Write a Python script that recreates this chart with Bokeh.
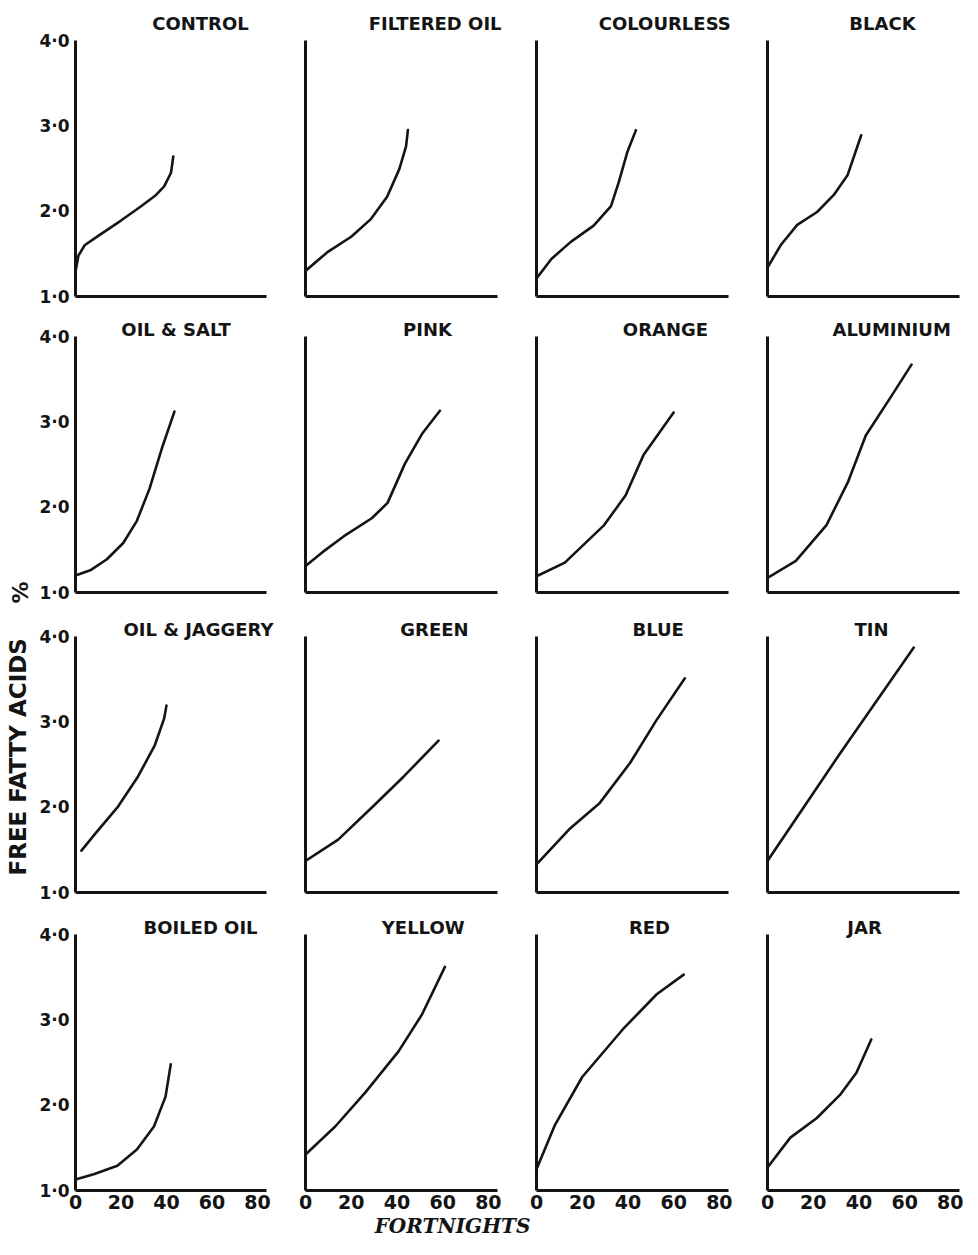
import math
from bokeh.plotting import figure
from bokeh.layouts import gridplot, row, column
from bokeh.models import Range1d, Label, FixedTicker
from bokeh.embed import file_html
from bokeh.resources import INLINE

# ---------------- data ----------------
titles = ["CONTROL", "FILTERED OIL", "COLOURLESS", "BLACK",
          "OIL & SALT", "PINK", "ORANGE", "ALUMINIUM",
          "OIL & JAGGERY", "GREEN", "BLUE", "TIN",
          "BOILED OIL", "YELLOW", "RED", "JAR"]

y_ticks = [1, 2, 3, 4]
y_tick_labels = ["1·0", "2·0", "3·0", "4·0"]
x_ticks = [0, 20, 40, 60, 80]
x_tick_labels = ["0", "20", "40", "60", "80"]

control_x = [0, 1.3, 4, 10, 20, 29, 35, 39, 42, 43]
control_y = [1.29, 1.48, 1.60, 1.71, 1.89, 2.06, 2.18, 2.29, 2.45, 2.64]

filtered_x = [0, 9.6, 20, 28.7, 35.7, 41, 44, 44.8]
filtered_y = [1.30, 1.52, 1.70, 1.91, 2.17, 2.49, 2.76, 2.95]

colourless_x = [0, 6.5, 15, 25, 32.6, 36, 39.7, 43.5]
colourless_y = [1.21, 1.44, 1.64, 1.83, 2.06, 2.34, 2.69, 2.95]

black_x = [0, 6, 13, 21.7, 29, 35, 41]
black_y = [1.34, 1.61, 1.84, 1.99, 2.19, 2.42, 2.89]

oil_salt_x = [0, 6.5, 13.8, 21, 27, 32.6, 38, 43.5]
oil_salt_y = [1.20, 1.26, 1.39, 1.58, 1.84, 2.22, 2.69, 3.12]

pink_x = [0, 7.3, 16.8, 29, 35.9, 43.5, 51, 58.8]
pink_y = [1.31, 1.47, 1.66, 1.87, 2.05, 2.51, 2.86, 3.13]

orange_x = [0, 12.4, 29.6, 39, 46.8, 60]
orange_y = [1.19, 1.35, 1.79, 2.14, 2.61, 3.11]

aluminium_x = [0, 12.4, 25.8, 35.3, 43, 54.4, 63]
aluminium_y = [1.17, 1.37, 1.79, 2.30, 2.84, 3.31, 3.67]

oil_jaggery_x = [2.6, 8.7, 18.8, 27.5, 34.8, 39, 40]
oil_jaggery_y = [1.49, 1.69, 2.01, 2.36, 2.72, 3.04, 3.19]

green_x = [0, 14.3, 29.6, 43, 58.2]
green_y = [1.37, 1.62, 2.01, 2.36, 2.78]

blue_x = [0, 14.3, 27.7, 41, 52.5, 64.9]
blue_y = [1.33, 1.74, 2.05, 2.52, 3.02, 3.51]

tin_x = [0, 31.5, 64]
tin_y = [1.37, 2.62, 3.87]

boiled_x = [0, 8, 18.4, 27, 34.5, 39.6, 41.9]
boiled_y = [1.13, 1.19, 1.29, 1.48, 1.75, 2.10, 2.48]

yellow_x = [0, 13, 26.2, 40.7, 50.9, 61]
yellow_y = [1.42, 1.75, 2.15, 2.63, 3.06, 3.62]

red_x = [0, 8.1, 20, 37.8, 52.6, 64.4]
red_y = [1.25, 1.77, 2.33, 2.89, 3.30, 3.53]

jar_x = [0, 10, 21.6, 31.7, 38.9, 45.4]
jar_y = [1.27, 1.62, 1.85, 2.12, 2.38, 2.77]

series = [(control_x, control_y), (filtered_x, filtered_y),
          (colourless_x, colourless_y), (black_x, black_y),
          (oil_salt_x, oil_salt_y), (pink_x, pink_y),
          (orange_x, orange_y), (aluminium_x, aluminium_y),
          (oil_jaggery_x, oil_jaggery_y), (green_x, green_y),
          (blue_x, blue_y), (tin_x, tin_y),
          (boiled_x, boiled_y), (yellow_x, yellow_y),
          (red_x, red_y), (jar_x, jar_y)]

# ---------------- layout / style (pixels) ----------------
FRAME_W, FRAME_H = 192, 256
STRIP_W, STRIP_H = 36, 22
top_b = [40, 20, 22, 21]
bot_b = [20, 22, 21, 24]
left_b = [38, 20, 20, 20]
right_b = [19, 19, 19, 4]
title_standoff = [13, -6, -6, -6]
# desired centre of each panel title, in px from the frame's left edge
title_center_px = [117, 146, 121, 107, 94, 114, 121, 119,
                   128, 121, 114, 96, 117, 110, 105, 89]
TITLE_FIX = 13
TITLE_PX = 18
INK = "#141414"
SANS = "DejaVu Sans"

# approximate advance widths of DejaVu Sans Bold (em units)
ADV = {"A": .774, "B": .762, "C": .735, "D": .830, "E": .683, "F": .683,
       "G": .822, "H": .838, "I": .372, "J": .372, "K": .776, "L": .637,
       "M": .995, "N": .838, "O": .850, "P": .734, "R": .770, "S": .721,
       "T": .682, "U": .812, "W": 1.102, "Y": .723, " ": .348, "&": .872}


def text_w(s, px):
    return sum(ADV.get(c, .75) for c in s) * px


rows = []
for i in range(4):
    row_figs = []
    for j in range(4):
        k = i * 4 + j
        p = figure(width=left_b[j] + FRAME_W + right_b[j],
                   height=top_b[i] + FRAME_H + bot_b[i],
                   x_range=Range1d(0, 84), y_range=Range1d(1, 4),
                   output_backend="svg", toolbar_location=None,
                   min_border_left=left_b[j], min_border_right=right_b[j],
                   min_border_top=top_b[i], min_border_bottom=bot_b[i],
                   title=titles[k])
        w = text_w(titles[k], TITLE_PX)
        off = title_center_px[k] + TITLE_FIX - w / 2 - 5
        off = min(off, FRAME_W + right_b[j] - 12 - w)
        p.title.align = "left"
        p.title.offset = off
        p.title.text_font = SANS
        p.title.text_font_style = "bold"
        p.title.text_font_size = f"{TITLE_PX}px"
        p.title.text_color = INK
        try:
            p.title.standoff = title_standoff[i]
        except Exception:
            try:
                p.title.standoff = max(0, title_standoff[i])
            except Exception:
                pass
        p.outline_line_color = None
        p.xgrid.visible = False
        p.ygrid.visible = False
        for ax in (p.xaxis[0], p.yaxis[0]):
            ax.axis_line_width = 3
            ax.axis_line_color = INK
            ax.major_tick_in = 0
            ax.major_tick_out = 0
            ax.minor_tick_in = 0
            ax.minor_tick_out = 0
            ax.major_label_text_font = SANS
            ax.major_label_text_font_style = "bold"
            ax.major_label_text_color = INK
            ax.major_label_standoff = 6
        if j == 0:
            p.yaxis.ticker = FixedTicker(ticks=y_ticks)
            p.yaxis.major_label_overrides = dict(zip(y_ticks, y_tick_labels))
            p.yaxis.major_label_text_font_size = "17px"
        else:
            p.yaxis.ticker = FixedTicker(ticks=[])
        if i == 3:
            p.xaxis.ticker = FixedTicker(ticks=x_ticks)
            p.xaxis.major_label_overrides = dict(zip(x_ticks, x_tick_labels))
            p.xaxis.major_label_text_font_size = "19px"
            p.xaxis.major_label_standoff = 4
        else:
            p.xaxis.ticker = FixedTicker(ticks=[])

        xs, ys = series[k]
        p.line(xs, ys, line_width=2.6, line_color=INK, line_cap="round",
               line_join="round")
        row_figs.append(p)
    rows.append(row_figs)

grid = gridplot(rows, toolbar_location=None)

GRID_W = sum(left_b[j] + FRAME_W + right_b[j] for j in range(4))
GRID_H = sum(top_b[i] + FRAME_H + bot_b[i] for i in range(4))


def strip(w, h):
    s = figure(width=w, height=h, x_range=Range1d(0, w), y_range=Range1d(0, h),
               output_backend="svg", toolbar_location=None,
               min_border=0, min_border_left=0, min_border_right=0,
               min_border_top=0, min_border_bottom=0)
    s.axis.visible = False
    s.grid.visible = False
    s.outline_line_color = None
    return s


# left strip with the y-axis title
left = strip(STRIP_W, GRID_H)
row2_top = top_b[0] + FRAME_H + bot_b[0] + top_b[1]
row3_top = row2_top + FRAME_H + bot_b[1] + top_b[2]
left.add_layout(Label(x=17, y=GRID_H - (row3_top + 0.47 * FRAME_H),
                      angle=math.pi / 2, text="FREE FATTY ACIDS",
                      text_align="center", text_baseline="middle",
                      text_font=SANS, text_font_style="bold",
                      text_font_size="23px", text_color=INK))
left.add_layout(Label(x=20, y=GRID_H - (row2_top + 1.0 * FRAME_H),
                      angle=math.pi / 2, text="%",
                      text_align="center", text_baseline="middle",
                      text_font=SANS, text_font_style="bold",
                      text_font_size="22px", text_color=INK))

# bottom strip with the x-axis title
bottom = strip(STRIP_W + GRID_W, STRIP_H)
bottom.add_layout(Label(x=452, y=STRIP_H / 2, text="FORTNIGHTS",
                        text_align="center", text_baseline="middle",
                        text_font="DejaVu Serif", text_font_style="bold italic",
                        text_font_size="20px", text_color=INK))

layout = column(row(left, grid), bottom)

open("out.html", "w").write(file_html(layout, INLINE))
